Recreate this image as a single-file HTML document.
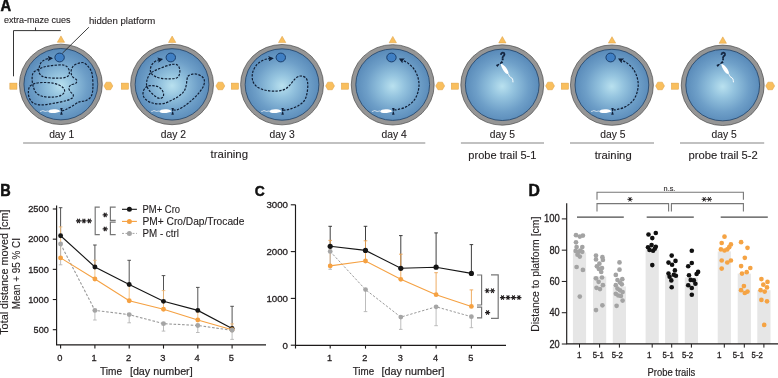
<!DOCTYPE html>
<html><head><meta charset="utf-8"><style>
html,body{margin:0;padding:0;background:#fff;}
svg{display:block;will-change:transform;}
text{font-family:"Liberation Sans", sans-serif;}
</style></head><body>
<svg width="778" height="378" viewBox="0 0 778 378" font-family='"Liberation Sans", sans-serif' fill="#231f20">
<rect width="778" height="378" fill="#ffffff"/>
<defs>
<radialGradient id="water" cx="0.5" cy="0.52" r="0.55"><stop offset="0" stop-color="#b9e1ef"/><stop offset="0.28" stop-color="#95c4df"/><stop offset="0.65" stop-color="#6e9fc8"/><stop offset="1" stop-color="#5485b5"/></radialGradient>
<marker id="ah" viewBox="0 0 10 10" refX="7" refY="5" markerWidth="4.6" markerHeight="4.6" orient="auto-start-reverse"><path d="M0,0 L10,5 L0,10 L2,5 z" fill="#10203a"/></marker>
</defs>
<path d="M60.95,35.90 L64.60,42.30 L57.30,42.30 Z" fill="#f9bf5e" stroke="#dc9d3f" stroke-width="0.5"/>
<rect x="9.85" y="83.1" width="7.1" height="6.1" fill="#f9bf5e" stroke="#dc9d3f" stroke-width="0.5"/>
<path d="M103.95,85.95 L106.18,82.15 L110.62,82.15 L112.85,85.95 L110.62,89.75 L106.18,89.75 Z" fill="#f9bf5e" stroke="#dc9d3f" stroke-width="0.5"/>
<ellipse cx="60.85" cy="84.35" rx="41.45" ry="40.2" fill="#959595" stroke="#4a4a4a" stroke-width="0.7"/>
<ellipse cx="60.85" cy="84.20" rx="36.9" ry="35.7" fill="url(#water)" stroke="#24466c" stroke-width="0.85"/>
<ellipse cx="59.60" cy="57.5" rx="4.7" ry="4.4" fill="#3f7fc4" stroke="#173a66" stroke-width="0.95"/>
<path d="M48.85,111.30 C47.050000000000004,110.3 46.050000000000004,112.3 44.050000000000004,111.0 S41.550000000000004,111.89999999999999 40.050000000000004,111.39999999999999" fill="none" stroke="#ffffff" stroke-width="0.8" opacity="0.9"/>
<path d="M48.55,111.40 C48.55,108.90 57.05,108.70 59.85,110.80 L60.55,111.30 C57.05,113.60 48.55,113.70 48.55,111.40 Z" fill="#ffffff"/>
<path d="M60.20,107.90 L62.70,107.90 L61.80,111.00 L61.10,111.00 Z M61.10,111.60 L61.80,111.60 L62.70,114.80 L60.20,114.80 Z" fill="#10203a"/>
<path d="M62.00,110.90 C62.57,110.70 63.83,110.42 65.40,109.70 C66.97,108.98 69.25,107.83 71.40,106.60 C73.55,105.37 76.57,103.17 78.30,102.30 C80.03,101.43 80.50,101.68 81.80,101.40 C83.10,101.12 84.53,101.45 86.10,100.60 C87.67,99.75 90.07,98.45 91.20,96.30 C92.33,94.15 92.75,91.43 92.90,87.70 C93.05,83.97 92.82,77.35 92.10,73.90 C91.38,70.45 90.03,68.87 88.60,67.00 C87.17,65.13 85.35,63.27 83.50,62.70 C81.65,62.13 79.22,63.02 77.50,63.60 C75.78,64.18 74.27,64.92 73.20,66.20 C72.13,67.48 71.25,69.58 71.10,71.30 C70.95,73.02 71.38,75.07 72.30,76.50 C73.22,77.93 76.03,78.75 76.60,79.90 C77.17,81.05 76.70,82.53 75.70,83.40 C74.70,84.27 71.73,84.25 70.60,85.10 C69.47,85.95 68.90,87.35 68.90,88.50 C68.90,89.65 69.88,90.98 70.60,92.00 C71.32,93.02 72.92,93.60 73.20,94.60 C73.48,95.60 73.45,97.00 72.30,98.00 C71.15,99.00 69.32,99.73 66.30,100.60 C63.28,101.47 58.22,102.48 54.20,103.20 C50.18,103.92 45.63,104.90 42.20,104.90 C38.77,104.90 35.75,104.35 33.60,103.20 C31.45,102.05 30.17,100.02 29.30,98.00 C28.43,95.98 28.25,93.10 28.40,91.10 C28.55,89.10 29.05,87.28 30.20,86.00 C31.35,84.72 33.02,83.98 35.30,83.40 C37.58,82.82 40.75,82.50 43.90,82.50 C47.05,82.50 51.18,82.68 54.20,83.40 C57.22,84.12 60.27,85.52 62.00,86.80 C63.73,88.08 64.75,89.67 64.60,91.10 C64.45,92.53 63.12,94.40 61.10,95.40 C59.08,96.40 55.65,96.95 52.50,97.10 C49.35,97.25 44.92,97.02 42.20,96.30 C39.48,95.58 37.63,94.23 36.20,92.80 C34.77,91.37 34.27,89.70 33.60,87.70 C32.93,85.70 32.35,83.10 32.20,80.80 C32.05,78.50 32.03,75.62 32.70,73.90 C33.37,72.18 34.33,71.65 36.20,70.50 C38.07,69.35 40.90,67.87 43.90,67.00 C46.90,66.13 50.75,65.58 54.20,65.30 C57.65,65.02 62.15,64.58 64.60,65.30 C67.05,66.02 68.18,68.02 68.90,69.60 C69.62,71.18 69.48,73.50 68.90,74.80 C68.32,76.10 67.27,76.83 65.40,77.40 C63.53,77.97 61.00,78.20 57.70,78.20 C54.40,78.20 48.47,77.97 45.60,77.40 C42.73,76.83 41.63,75.95 40.50,74.80 C39.37,73.65 38.80,72.37 38.80,70.50 C38.80,68.63 39.65,65.32 40.50,63.60 C41.35,61.88 42.57,61.05 43.90,60.20 C45.23,59.35 47.23,58.82 48.50,58.50 C49.77,58.18 51.00,58.33 51.50,58.30" fill="none" stroke="#0f1d33" stroke-width="1.18" stroke-dasharray="2.4,1.3" marker-end="url(#ah)"/>
<path d="M172.15,36.06 L175.80,42.46 L168.50,42.46 Z" fill="#f9bf5e" stroke="#dc9d3f" stroke-width="0.5"/>
<rect x="121.35" y="83.1" width="7.1" height="6.1" fill="#f9bf5e" stroke="#dc9d3f" stroke-width="0.5"/>
<path d="M215.90,85.95 L218.12,82.15 L222.57,82.15 L224.80,85.95 L222.57,89.75 L218.12,89.75 Z" fill="#f9bf5e" stroke="#dc9d3f" stroke-width="0.5"/>
<ellipse cx="172.05" cy="84.51" rx="41.45" ry="40.2" fill="#959595" stroke="#4a4a4a" stroke-width="0.7"/>
<ellipse cx="172.05" cy="84.36" rx="36.9" ry="35.7" fill="url(#water)" stroke="#24466c" stroke-width="0.85"/>
<ellipse cx="170.80" cy="57.5" rx="4.7" ry="4.4" fill="#3f7fc4" stroke="#173a66" stroke-width="0.95"/>
<path d="M160.05,111.30 C158.25,110.3 157.25,112.3 155.25,111.0 S152.75,111.89999999999999 151.25,111.39999999999999" fill="none" stroke="#ffffff" stroke-width="0.8" opacity="0.9"/>
<path d="M159.75,111.40 C159.75,108.90 168.25,108.70 171.05,110.80 L171.75,111.30 C168.25,113.60 159.75,113.70 159.75,111.40 Z" fill="#ffffff"/>
<path d="M171.40,107.90 L173.90,107.90 L173.00,111.00 L172.30,111.00 Z M172.30,111.60 L173.00,111.60 L173.90,114.80 L171.40,114.80 Z" fill="#10203a"/>
<path d="M173.30,109.90 C173.90,109.90 175.30,110.40 176.90,109.90 C178.50,109.40 180.92,108.10 182.90,106.90 C184.88,105.70 186.82,104.28 188.80,102.70 C190.78,101.12 192.92,99.28 194.80,97.40 C196.68,95.52 198.62,93.38 200.10,91.40 C201.58,89.42 203.00,87.38 203.70,85.50 C204.40,83.62 204.60,81.60 204.30,80.10 C204.00,78.60 203.10,77.48 201.90,76.50 C200.70,75.52 198.68,74.58 197.10,74.20 C195.52,73.82 193.88,73.90 192.40,74.20 C190.92,74.50 189.10,75.12 188.20,76.00 C187.30,76.88 187.30,78.12 187.00,79.50 C186.70,80.88 186.70,82.72 186.40,84.30 C186.10,85.88 185.78,87.62 185.20,89.00 C184.62,90.38 184.08,91.32 182.90,92.60 C181.72,93.88 179.92,95.47 178.10,96.70 C176.28,97.93 174.28,98.88 172.00,100.00 C169.72,101.12 166.87,102.77 164.40,103.40 C161.93,104.03 159.45,103.93 157.20,103.80 C154.95,103.67 152.75,103.27 150.90,102.60 C149.05,101.93 147.37,100.92 146.10,99.80 C144.83,98.68 143.77,97.35 143.30,95.90 C142.83,94.45 142.97,92.43 143.30,91.10 C143.63,89.77 144.57,88.75 145.30,87.90 C146.03,87.05 146.50,86.38 147.70,86.00 C148.90,85.62 150.78,85.48 152.50,85.60 C154.22,85.72 156.42,85.98 158.00,86.70 C159.58,87.42 161.07,88.63 162.00,89.90 C162.93,91.17 163.53,93.03 163.60,94.30 C163.67,95.57 163.20,96.83 162.40,97.50 C161.60,98.17 160.32,98.77 158.80,98.30 C157.28,97.83 155.02,96.17 153.30,94.70 C151.58,93.23 149.62,91.12 148.50,89.50 C147.38,87.88 146.87,86.50 146.60,85.00 C146.33,83.50 146.68,81.75 146.90,80.50 C147.12,79.25 147.33,78.70 147.90,77.50 C148.47,76.30 148.97,74.53 150.30,73.30 C151.63,72.07 153.65,71.17 155.90,70.10 C158.15,69.03 161.17,67.83 163.80,66.90 C166.43,65.97 169.45,64.83 171.70,64.50 C173.95,64.17 175.97,64.10 177.30,64.90 C178.63,65.70 179.37,67.65 179.70,69.30 C180.03,70.95 179.83,73.35 179.30,74.80 C178.77,76.25 178.02,77.33 176.50,78.00 C174.98,78.67 172.72,78.73 170.20,78.80 C167.68,78.87 163.92,78.80 161.40,78.40 C158.88,78.00 156.75,77.18 155.10,76.40 C153.45,75.62 152.30,74.75 151.50,73.70 C150.70,72.65 150.30,71.50 150.30,70.10 C150.30,68.70 150.77,66.70 151.50,65.30 C152.23,63.90 153.53,62.60 154.70,61.70 C155.87,60.80 157.37,60.30 158.50,59.90 C159.63,59.50 161.00,59.40 161.50,59.30" fill="none" stroke="#0f1d33" stroke-width="1.18" stroke-dasharray="2.4,1.3" marker-end="url(#ah)"/>
<path d="M282.15,36.22 L285.80,42.62 L278.50,42.62 Z" fill="#f9bf5e" stroke="#dc9d3f" stroke-width="0.5"/>
<rect x="231.35" y="83.1" width="7.1" height="6.1" fill="#f9bf5e" stroke="#dc9d3f" stroke-width="0.5"/>
<path d="M325.60,85.95 L327.82,82.15 L332.28,82.15 L334.50,85.95 L332.28,89.75 L327.82,89.75 Z" fill="#f9bf5e" stroke="#dc9d3f" stroke-width="0.5"/>
<ellipse cx="282.05" cy="84.67" rx="41.45" ry="40.2" fill="#959595" stroke="#4a4a4a" stroke-width="0.7"/>
<ellipse cx="282.05" cy="84.52" rx="36.9" ry="35.7" fill="url(#water)" stroke="#24466c" stroke-width="0.85"/>
<ellipse cx="280.80" cy="57.5" rx="4.7" ry="4.4" fill="#3f7fc4" stroke="#173a66" stroke-width="0.95"/>
<path d="M270.05,111.30 C268.25,110.3 267.25,112.3 265.25,111.0 S262.75,111.89999999999999 261.25,111.39999999999999" fill="none" stroke="#ffffff" stroke-width="0.8" opacity="0.9"/>
<path d="M269.75,111.40 C269.75,108.90 278.25,108.70 281.05,110.80 L281.75,111.30 C278.25,113.60 269.75,113.70 269.75,111.40 Z" fill="#ffffff"/>
<path d="M281.40,107.90 L283.90,107.90 L283.00,111.00 L282.30,111.00 Z M282.30,111.60 L283.00,111.60 L283.90,114.80 L281.40,114.80 Z" fill="#10203a"/>
<path d="M283.18,110.38 C284.27,110.18 287.20,109.95 289.72,109.18 C292.24,108.41 295.88,107.17 298.32,105.74 C300.76,104.31 302.91,102.59 304.34,100.58 C305.77,98.57 306.35,96.42 306.92,93.70 C307.49,90.98 307.92,86.82 307.78,84.24 C307.64,81.66 307.21,79.60 306.06,78.22 C304.91,76.84 302.62,75.98 300.90,75.98 C299.18,75.98 297.46,76.84 295.74,78.22 C294.02,79.60 292.44,82.38 290.58,84.24 C288.72,86.10 287.00,88.25 284.56,89.40 C282.12,90.55 279.11,90.98 275.96,91.12 C272.81,91.26 268.79,90.98 265.64,90.26 C262.49,89.54 259.19,88.40 257.04,86.82 C254.89,85.24 253.46,83.24 252.74,80.80 C252.02,78.36 252.02,74.92 252.74,72.20 C253.46,69.48 255.32,66.47 257.04,64.46 C258.76,62.45 261.20,61.11 263.06,60.16 C264.92,59.21 266.70,59.07 268.22,58.78 C269.74,58.50 271.52,58.50 272.18,58.44" fill="none" stroke="#0f1d33" stroke-width="1.18" stroke-dasharray="2.4,1.3" marker-end="url(#ah)"/>
<path d="M392.80,36.38 L396.45,42.78 L389.15,42.78 Z" fill="#f9bf5e" stroke="#dc9d3f" stroke-width="0.5"/>
<rect x="341.45" y="83.1" width="7.1" height="6.1" fill="#f9bf5e" stroke="#dc9d3f" stroke-width="0.5"/>
<path d="M435.75,85.95 L437.97,82.15 L442.43,82.15 L444.65,85.95 L442.43,89.75 L437.97,89.75 Z" fill="#f9bf5e" stroke="#dc9d3f" stroke-width="0.5"/>
<ellipse cx="392.70" cy="84.83" rx="41.45" ry="40.2" fill="#959595" stroke="#4a4a4a" stroke-width="0.7"/>
<ellipse cx="392.70" cy="84.68" rx="36.9" ry="35.7" fill="url(#water)" stroke="#24466c" stroke-width="0.85"/>
<ellipse cx="391.45" cy="57.5" rx="4.7" ry="4.4" fill="#3f7fc4" stroke="#173a66" stroke-width="0.95"/>
<path d="M380.70,111.30 C378.9,110.3 377.9,112.3 375.9,111.0 S373.4,111.89999999999999 371.9,111.39999999999999" fill="none" stroke="#ffffff" stroke-width="0.8" opacity="0.9"/>
<path d="M380.40,111.40 C380.40,108.90 388.90,108.70 391.70,110.80 L392.40,111.30 C388.90,113.60 380.40,113.70 380.40,111.40 Z" fill="#ffffff"/>
<path d="M392.05,107.90 L394.55,107.90 L393.65,111.00 L392.95,111.00 Z M392.95,111.60 L393.65,111.60 L394.55,114.80 L392.05,114.80 Z" fill="#10203a"/>
<path d="M394.31,109.95 C394.87,109.88 395.63,110.12 397.68,109.55 C399.73,108.99 403.80,108.23 406.61,106.58 C409.43,104.92 412.57,102.44 414.55,99.63 C416.54,96.82 417.86,93.01 418.52,89.70 C419.19,86.39 419.19,83.09 418.52,79.78 C417.86,76.47 416.37,72.66 414.55,69.85 C412.73,67.04 409.99,64.66 407.61,62.90 C405.22,61.15 401.48,59.93 400.26,59.33" fill="none" stroke="#0f1d33" stroke-width="1.18" stroke-dasharray="2.4,1.3" marker-end="url(#ah)"/>
<path d="M502.35,36.53 L506.00,42.93 L498.70,42.93 Z" fill="#f9bf5e" stroke="#dc9d3f" stroke-width="0.5"/>
<rect x="451.35" y="83.1" width="7.1" height="6.1" fill="#f9bf5e" stroke="#dc9d3f" stroke-width="0.5"/>
<path d="M545.60,85.95 L547.82,82.15 L552.27,82.15 L554.50,85.95 L552.27,89.75 L547.82,89.75 Z" fill="#f9bf5e" stroke="#dc9d3f" stroke-width="0.5"/>
<ellipse cx="502.25" cy="84.98" rx="41.45" ry="40.2" fill="#959595" stroke="#4a4a4a" stroke-width="0.7"/>
<ellipse cx="502.25" cy="84.83" rx="36.9" ry="35.7" fill="url(#water)" stroke="#24466c" stroke-width="0.85"/>
<g transform="translate(504.55,68.70) rotate(55)"><path d="M-6.3,0 C-6.3,-2.3 3,-2.5 5.6,-0.4 L6.2,0.2 C3,2.5 -6.3,2.5 -6.3,0 Z" fill="#ffffff" transform="scale(-1,1)"/><path d="M6,0.2 C7.5,-0.8 8.5,1.2 10.5,0 S13.5,-0.6 16,0.9" fill="none" stroke="#ffffff" stroke-width="0.9"/></g>
<g transform="translate(499.55,63.90) rotate(-35)"><path d="M-3.6,-1.2 L-0.5,-0.5 L-0.5,0.5 L-3.6,1.2 Z M0.5,-0.5 L3.6,-1.2 L3.6,1.2 L0.5,0.5 Z" fill="#10203a"/></g>
<text x="502.85" y="59.9" font-size="11.4" font-weight="bold" text-anchor="middle" fill="#10203a" stroke="#10203a" stroke-width="0.6" textLength="5.6" lengthAdjust="spacingAndGlyphs">?</text>
<path d="M612.00,36.69 L615.65,43.09 L608.35,43.09 Z" fill="#f9bf5e" stroke="#dc9d3f" stroke-width="0.5"/>
<rect x="561.35" y="83.1" width="7.1" height="6.1" fill="#f9bf5e" stroke="#dc9d3f" stroke-width="0.5"/>
<path d="M655.60,85.95 L657.82,82.15 L662.27,82.15 L664.50,85.95 L662.27,89.75 L657.82,89.75 Z" fill="#f9bf5e" stroke="#dc9d3f" stroke-width="0.5"/>
<ellipse cx="611.90" cy="85.14" rx="41.45" ry="40.2" fill="#959595" stroke="#4a4a4a" stroke-width="0.7"/>
<ellipse cx="611.90" cy="84.99" rx="36.9" ry="35.7" fill="url(#water)" stroke="#24466c" stroke-width="0.85"/>
<ellipse cx="610.65" cy="57.5" rx="4.7" ry="4.4" fill="#3f7fc4" stroke="#173a66" stroke-width="0.95"/>
<path d="M599.90,111.30 C598.1,110.3 597.1,112.3 595.1,111.0 S592.6,111.89999999999999 591.1,111.39999999999999" fill="none" stroke="#ffffff" stroke-width="0.8" opacity="0.9"/>
<path d="M599.60,111.40 C599.60,108.90 608.10,108.70 610.90,110.80 L611.60,111.30 C608.10,113.60 599.60,113.70 599.60,111.40 Z" fill="#ffffff"/>
<path d="M611.25,107.90 L613.75,107.90 L612.85,111.00 L612.15,111.00 Z M612.15,111.60 L612.85,111.60 L613.75,114.80 L611.25,114.80 Z" fill="#10203a"/>
<path d="M613.51,109.95 C614.07,109.88 614.83,110.12 616.88,109.55 C618.93,108.99 623.00,108.23 625.81,106.58 C628.63,104.92 631.77,102.44 633.75,99.63 C635.74,96.82 637.06,93.01 637.72,89.70 C638.39,86.39 638.39,83.09 637.72,79.78 C637.06,76.47 635.57,72.66 633.75,69.85 C631.93,67.04 629.19,64.66 626.81,62.90 C624.42,61.15 620.68,59.93 619.46,59.33" fill="none" stroke="#0f1d33" stroke-width="1.18" stroke-dasharray="2.4,1.3" marker-end="url(#ah)"/>
<path d="M722.80,36.85 L726.45,43.25 L719.15,43.25 Z" fill="#f9bf5e" stroke="#dc9d3f" stroke-width="0.5"/>
<rect x="671.45" y="83.1" width="7.1" height="6.1" fill="#f9bf5e" stroke="#dc9d3f" stroke-width="0.5"/>
<path d="M765.75,85.95 L767.98,82.15 L772.43,82.15 L774.65,85.95 L772.43,89.75 L767.98,89.75 Z" fill="#f9bf5e" stroke="#dc9d3f" stroke-width="0.5"/>
<ellipse cx="722.70" cy="85.30" rx="41.45" ry="40.2" fill="#959595" stroke="#4a4a4a" stroke-width="0.7"/>
<ellipse cx="722.70" cy="85.15" rx="36.9" ry="35.7" fill="url(#water)" stroke="#24466c" stroke-width="0.85"/>
<g transform="translate(725.00,68.70) rotate(55)"><path d="M-6.3,0 C-6.3,-2.3 3,-2.5 5.6,-0.4 L6.2,0.2 C3,2.5 -6.3,2.5 -6.3,0 Z" fill="#ffffff" transform="scale(-1,1)"/><path d="M6,0.2 C7.5,-0.8 8.5,1.2 10.5,0 S13.5,-0.6 16,0.9" fill="none" stroke="#ffffff" stroke-width="0.9"/></g>
<g transform="translate(720.00,63.90) rotate(-35)"><path d="M-3.6,-1.2 L-0.5,-0.5 L-0.5,0.5 L-3.6,1.2 Z M0.5,-0.5 L3.6,-1.2 L3.6,1.2 L0.5,0.5 Z" fill="#10203a"/></g>
<text x="723.30" y="59.9" font-size="11.4" font-weight="bold" text-anchor="middle" fill="#10203a" stroke="#10203a" stroke-width="0.6" textLength="5.6" lengthAdjust="spacingAndGlyphs">?</text>
<path d="M13.5,76.3 L13.5,30.6 L60.8,30.6 M35.5,30.6 L35.5,27.4" fill="none" stroke="#2a2a2a" stroke-width="0.95"/>
<path d="M88.9,27.2 L62.4,53.2" fill="none" stroke="#2a2a2a" stroke-width="0.9"/>
<text x="0.60" y="10.60" font-size="16.0" stroke="#111" stroke-width="0.5" font-weight="bold" fill="#111" textLength="10.60" lengthAdjust="spacingAndGlyphs" >A</text>
<text x="4.00" y="23.30" font-size="9.6" stroke="#231f20" stroke-width="0.12" textLength="66.40" lengthAdjust="spacingAndGlyphs" >extra-maze cues</text>
<text x="88.90" y="24.40" font-size="9.8" stroke="#231f20" stroke-width="0.12" textLength="66.30" lengthAdjust="spacingAndGlyphs" >hidden platform</text>
<text x="61.75" y="137.80" font-size="10.5" stroke="#231f20" stroke-width="0.12" text-anchor="middle" textLength="25.20" lengthAdjust="spacingAndGlyphs" >day 1</text>
<text x="173.40" y="137.80" font-size="10.5" stroke="#231f20" stroke-width="0.12" text-anchor="middle" textLength="25.20" lengthAdjust="spacingAndGlyphs" >day 2</text>
<text x="282.05" y="137.80" font-size="10.5" stroke="#231f20" stroke-width="0.12" text-anchor="middle" textLength="25.20" lengthAdjust="spacingAndGlyphs" >day 3</text>
<text x="394.10" y="137.80" font-size="10.5" stroke="#231f20" stroke-width="0.12" text-anchor="middle" textLength="25.20" lengthAdjust="spacingAndGlyphs" >day 4</text>
<text x="502.45" y="137.80" font-size="10.5" stroke="#231f20" stroke-width="0.12" text-anchor="middle" textLength="25.20" lengthAdjust="spacingAndGlyphs" >day 5</text>
<text x="612.90" y="137.80" font-size="10.5" stroke="#231f20" stroke-width="0.12" text-anchor="middle" textLength="25.20" lengthAdjust="spacingAndGlyphs" >day 5</text>
<text x="724.20" y="137.80" font-size="10.5" stroke="#231f20" stroke-width="0.12" text-anchor="middle" textLength="25.20" lengthAdjust="spacingAndGlyphs" >day 5</text>
<line x1="23.1" y1="142.9" x2="425.3" y2="142.9" stroke="#adadad" stroke-width="1.5"/>
<line x1="460.9" y1="142.9" x2="544" y2="142.9" stroke="#adadad" stroke-width="1.5"/>
<line x1="570" y1="142.9" x2="654" y2="142.9" stroke="#adadad" stroke-width="1.5"/>
<line x1="680" y1="142.9" x2="764.2" y2="142.9" stroke="#adadad" stroke-width="1.5"/>
<text x="229.30" y="158.40" font-size="10.5" stroke="#231f20" stroke-width="0.12" text-anchor="middle" textLength="37.40" lengthAdjust="spacingAndGlyphs" >training</text>
<text x="502.40" y="158.50" font-size="10.5" stroke="#231f20" stroke-width="0.12" text-anchor="middle" textLength="68.10" lengthAdjust="spacingAndGlyphs" >probe trail 5-1</text>
<text x="613.20" y="158.50" font-size="10.5" stroke="#231f20" stroke-width="0.12" text-anchor="middle" textLength="36.90" lengthAdjust="spacingAndGlyphs" >training</text>
<text x="723.15" y="158.50" font-size="10.5" stroke="#231f20" stroke-width="0.12" text-anchor="middle" textLength="69.30" lengthAdjust="spacingAndGlyphs" >probe trail 5-2</text>
<text x="0.30" y="195.90" font-size="15.9" stroke="#111" stroke-width="0.5" font-weight="bold" fill="#111" textLength="10.50" lengthAdjust="spacingAndGlyphs" >B</text>
<path d="M56.6,205.6 L56.6,344.9 L266,344.9" fill="none" stroke="#1c1a1a" stroke-width="1.15"/>
<line x1="52.8" y1="329.70" x2="56.6" y2="329.70" stroke="#1c1a1a" stroke-width="1.1"/>
<text x="48.80" y="332.90" font-size="9.4" stroke="#231f20" stroke-width="0.3" text-anchor="end" textLength="15.20" lengthAdjust="spacingAndGlyphs" >500</text>
<line x1="52.8" y1="299.52" x2="56.6" y2="299.52" stroke="#1c1a1a" stroke-width="1.1"/>
<text x="48.80" y="302.72" font-size="9.4" stroke="#231f20" stroke-width="0.3" text-anchor="end" textLength="20.60" lengthAdjust="spacingAndGlyphs" >1000</text>
<line x1="52.8" y1="269.35" x2="56.6" y2="269.35" stroke="#1c1a1a" stroke-width="1.1"/>
<text x="48.80" y="272.55" font-size="9.4" stroke="#231f20" stroke-width="0.3" text-anchor="end" textLength="20.60" lengthAdjust="spacingAndGlyphs" >1500</text>
<line x1="52.8" y1="239.17" x2="56.6" y2="239.17" stroke="#1c1a1a" stroke-width="1.1"/>
<text x="48.80" y="242.37" font-size="9.4" stroke="#231f20" stroke-width="0.3" text-anchor="end" textLength="20.60" lengthAdjust="spacingAndGlyphs" >2000</text>
<line x1="52.8" y1="209.00" x2="56.6" y2="209.00" stroke="#1c1a1a" stroke-width="1.1"/>
<text x="48.80" y="212.20" font-size="9.4" stroke="#231f20" stroke-width="0.3" text-anchor="end" textLength="20.60" lengthAdjust="spacingAndGlyphs" >2500</text>
<line x1="60.60" y1="344.9" x2="60.60" y2="348.6" stroke="#1c1a1a" stroke-width="1.1"/>
<text x="59.90" y="360.70" font-size="9.3" stroke="#231f20" stroke-width="0.3" text-anchor="middle" >0</text>
<line x1="94.90" y1="344.9" x2="94.90" y2="348.6" stroke="#1c1a1a" stroke-width="1.1"/>
<text x="94.20" y="360.70" font-size="9.3" stroke="#231f20" stroke-width="0.3" text-anchor="middle" >1</text>
<line x1="129.20" y1="344.9" x2="129.20" y2="348.6" stroke="#1c1a1a" stroke-width="1.1"/>
<text x="128.50" y="360.70" font-size="9.3" stroke="#231f20" stroke-width="0.3" text-anchor="middle" >2</text>
<line x1="163.50" y1="344.9" x2="163.50" y2="348.6" stroke="#1c1a1a" stroke-width="1.1"/>
<text x="162.80" y="360.70" font-size="9.3" stroke="#231f20" stroke-width="0.3" text-anchor="middle" >3</text>
<line x1="197.80" y1="344.9" x2="197.80" y2="348.6" stroke="#1c1a1a" stroke-width="1.1"/>
<text x="197.10" y="360.70" font-size="9.3" stroke="#231f20" stroke-width="0.3" text-anchor="middle" >4</text>
<line x1="232.10" y1="344.9" x2="232.10" y2="348.6" stroke="#1c1a1a" stroke-width="1.1"/>
<text x="231.40" y="360.70" font-size="9.3" stroke="#231f20" stroke-width="0.3" text-anchor="middle" >5</text>
<text x="100.00" y="374.90" font-size="10.9" stroke="#231f20" stroke-width="0.2" textLength="22.00" lengthAdjust="spacingAndGlyphs" >Time</text>
<text x="129.90" y="374.90" font-size="10.9" stroke="#231f20" stroke-width="0.2" textLength="62.80" lengthAdjust="spacingAndGlyphs" >[day number]</text>
<text x="8.40" y="334.80" font-size="10.5" stroke="#231f20" stroke-width="0.12" textLength="125.30" lengthAdjust="spacingAndGlyphs" transform="rotate(-90 8.40 334.80)" >Total distance moved  [cm]</text>
<text x="20.20" y="309.30" font-size="10.5" stroke="#231f20" stroke-width="0.12" textLength="71.30" lengthAdjust="spacingAndGlyphs" transform="rotate(-90 20.20 309.30)" >Mean + 95 % CI</text>
<path d="M60.60,235.74 L60.60,207.70 M58.80,207.70 L62.40,207.70" stroke="#4a4a4a" stroke-width="0.95" fill="none"/>
<path d="M60.60,257.88 L60.60,226.90 M58.80,226.90 L62.40,226.90" stroke="#f0bb7c" stroke-width="0.9" fill="none"/>
<path d="M60.60,244.00 L60.60,264.80 M58.80,264.80 L62.40,264.80" stroke="#b5b5b5" stroke-width="0.9" fill="none"/>
<path d="M94.90,266.94 L94.90,245.00 M93.10,245.00 L96.70,245.00" stroke="#4a4a4a" stroke-width="0.95" fill="none"/>
<path d="M94.90,279.01 L94.90,260.30 M93.10,260.30 L96.70,260.30" stroke="#f0bb7c" stroke-width="0.9" fill="none"/>
<path d="M94.90,310.39 L94.90,320.00 M93.10,320.00 L96.70,320.00" stroke="#b5b5b5" stroke-width="0.9" fill="none"/>
<path d="M129.20,284.44 L129.20,260.30 M127.40,260.30 L131.00,260.30" stroke="#4a4a4a" stroke-width="0.95" fill="none"/>
<path d="M129.20,300.73 L129.20,285.00 M127.40,285.00 L131.00,285.00" stroke="#f0bb7c" stroke-width="0.9" fill="none"/>
<path d="M129.20,314.61 L129.20,322.80 M127.40,322.80 L131.00,322.80" stroke="#b5b5b5" stroke-width="0.9" fill="none"/>
<path d="M163.50,301.34 L163.50,275.60 M161.70,275.60 L165.30,275.60" stroke="#4a4a4a" stroke-width="0.95" fill="none"/>
<path d="M163.50,309.18 L163.50,290.60 M161.70,290.60 L165.30,290.60" stroke="#f0bb7c" stroke-width="0.9" fill="none"/>
<path d="M163.50,323.66 L163.50,331.10 M161.70,331.10 L165.30,331.10" stroke="#b5b5b5" stroke-width="0.9" fill="none"/>
<path d="M197.80,310.39 L197.80,287.40 M196.00,287.40 L199.60,287.40" stroke="#4a4a4a" stroke-width="0.95" fill="none"/>
<path d="M197.80,320.04 L197.80,312.00 M196.00,312.00 L199.60,312.00" stroke="#f0bb7c" stroke-width="0.9" fill="none"/>
<path d="M197.80,325.48 L197.80,332.50 M196.00,332.50 L199.60,332.50" stroke="#b5b5b5" stroke-width="0.9" fill="none"/>
<path d="M232.10,328.49 L232.10,306.30 M230.30,306.30 L233.90,306.30" stroke="#4a4a4a" stroke-width="0.95" fill="none"/>
<path d="M232.10,329.70 L232.10,323.90 M230.30,323.90 L233.90,323.90" stroke="#f0bb7c" stroke-width="0.9" fill="none"/>
<path d="M232.10,330.30 L232.10,339.40 M230.30,339.40 L233.90,339.40" stroke="#b5b5b5" stroke-width="0.9" fill="none"/>
<polyline points="60.60,244.00 94.90,310.39 129.20,314.61 163.50,323.66 197.80,325.48 232.10,330.30" fill="none" stroke="#9a9a9a" stroke-width="1.1" stroke-dasharray="2.6,1.7"/>
<polyline points="60.60,257.88 94.90,279.01 129.20,300.73 163.50,309.18 197.80,320.04 232.10,329.70" fill="none" stroke="#f5a142" stroke-width="1.1"/>
<polyline points="60.60,235.74 94.90,266.94 129.20,284.44 163.50,301.34 197.80,310.39 232.10,328.49" fill="none" stroke="#151515" stroke-width="1.1"/>
<circle cx="60.60" cy="235.74" r="2.45" fill="#151515"/>
<circle cx="94.90" cy="266.94" r="2.45" fill="#151515"/>
<circle cx="129.20" cy="284.44" r="2.45" fill="#151515"/>
<circle cx="163.50" cy="301.34" r="2.45" fill="#151515"/>
<circle cx="197.80" cy="310.39" r="2.45" fill="#151515"/>
<circle cx="232.10" cy="328.49" r="2.45" fill="#151515"/>
<circle cx="60.60" cy="257.88" r="2.45" fill="#f5a142"/>
<circle cx="94.90" cy="279.01" r="2.45" fill="#f5a142"/>
<circle cx="129.20" cy="300.73" r="2.45" fill="#f5a142"/>
<circle cx="163.50" cy="309.18" r="2.45" fill="#f5a142"/>
<circle cx="197.80" cy="320.04" r="2.45" fill="#f5a142"/>
<circle cx="232.10" cy="329.70" r="2.45" fill="#f5a142"/>
<circle cx="60.60" cy="244.00" r="2.45" fill="#a5a5a5"/>
<circle cx="94.90" cy="310.39" r="2.45" fill="#a5a5a5"/>
<circle cx="129.20" cy="314.61" r="2.45" fill="#a5a5a5"/>
<circle cx="163.50" cy="323.66" r="2.45" fill="#a5a5a5"/>
<circle cx="197.80" cy="325.48" r="2.45" fill="#a5a5a5"/>
<circle cx="232.10" cy="330.30" r="2.45" fill="#a5a5a5"/>
<line x1="122" y1="209.3" x2="136.9" y2="209.3" stroke="#151515" stroke-width="1.1"/><circle cx="129.4" cy="209.3" r="2.5" fill="#151515"/>
<line x1="122" y1="221.4" x2="136.9" y2="221.4" stroke="#f5a142" stroke-width="1.1"/><circle cx="129.4" cy="221.4" r="2.5" fill="#f5a142"/>
<line x1="122" y1="233.4" x2="136.9" y2="233.4" stroke="#a5a5a5" stroke-width="1" stroke-dasharray="2,1.5"/><circle cx="129.4" cy="233.4" r="2.5" fill="#a5a5a5"/>
<text x="142.50" y="213.20" font-size="10.2" stroke="#231f20" stroke-width="0.12" textLength="37.60" lengthAdjust="spacingAndGlyphs" >PM+ Cro</text>
<text x="142.50" y="225.30" font-size="10.2" stroke="#231f20" stroke-width="0.12" textLength="101.90" lengthAdjust="spacingAndGlyphs" >PM+ Cro/Dap/Trocade</text>
<text x="142.50" y="237.40" font-size="10.2" stroke="#231f20" stroke-width="0.12" textLength="36.40" lengthAdjust="spacingAndGlyphs" >PM - ctrl</text>
<path d="M99.8,207.2 L95.2,207.2 L95.2,234.7 L99.8,234.7" fill="none" stroke="#777777" stroke-width="1.2"/>
<path d="M115.7,207.2 L110.4,207.2 L110.4,220.3 L115.7,220.3 M115.7,222.2 L110.4,222.2 L110.4,234.7 L115.7,234.7" fill="none" stroke="#777777" stroke-width="1.2"/>
<path d="M102.65,214.90 L107.75,214.90 M103.92,212.69 L106.48,217.11 M106.48,212.69 L103.92,217.11 " stroke="#231f20" stroke-width="1.1" fill="none"/>
<path d="M102.65,228.90 L107.75,228.90 M103.92,226.69 L106.48,231.11 M106.48,226.69 L103.92,231.11 " stroke="#231f20" stroke-width="1.1" fill="none"/>
<path d="M75.95,220.90 L81.05,220.90 M77.22,218.69 L79.78,223.11 M79.78,218.69 L77.22,223.11 " stroke="#231f20" stroke-width="1.1" fill="none"/>
<path d="M81.35,220.90 L86.45,220.90 M82.62,218.69 L85.18,223.11 M85.18,218.69 L82.62,223.11 " stroke="#231f20" stroke-width="1.1" fill="none"/>
<path d="M86.75,220.90 L91.85,220.90 M88.02,218.69 L90.58,223.11 M90.58,218.69 L88.02,223.11 " stroke="#231f20" stroke-width="1.1" fill="none"/>
<text x="254.80" y="195.70" font-size="15.4" stroke="#111" stroke-width="0.5" font-weight="bold" fill="#111" textLength="10.00" lengthAdjust="spacingAndGlyphs" >C</text>
<path d="M295.5,204.8 L295.5,348.6 M295.5,345.4 L506,345.4" fill="none" stroke="#1c1a1a" stroke-width="1.15"/>
<line x1="290.8" y1="345.20" x2="295.5" y2="345.20" stroke="#1c1a1a" stroke-width="1.1"/>
<text x="288.00" y="348.50" font-size="9.7" stroke="#231f20" stroke-width="0.3" text-anchor="end" >0</text>
<line x1="290.8" y1="298.40" x2="295.5" y2="298.40" stroke="#1c1a1a" stroke-width="1.1"/>
<text x="288.00" y="301.70" font-size="9.7" stroke="#231f20" stroke-width="0.3" text-anchor="end" textLength="21.60" lengthAdjust="spacingAndGlyphs" >1000</text>
<line x1="290.8" y1="251.60" x2="295.5" y2="251.60" stroke="#1c1a1a" stroke-width="1.1"/>
<text x="288.00" y="254.90" font-size="9.7" stroke="#231f20" stroke-width="0.3" text-anchor="end" textLength="21.60" lengthAdjust="spacingAndGlyphs" >2000</text>
<line x1="290.8" y1="204.80" x2="295.5" y2="204.80" stroke="#1c1a1a" stroke-width="1.1"/>
<text x="288.00" y="208.10" font-size="9.7" stroke="#231f20" stroke-width="0.3" text-anchor="end" textLength="21.60" lengthAdjust="spacingAndGlyphs" >3000</text>
<line x1="330.20" y1="345.4" x2="330.20" y2="348.6" stroke="#1c1a1a" stroke-width="1.1"/>
<text x="329.60" y="360.50" font-size="9.2" stroke="#231f20" stroke-width="0.3" text-anchor="middle" >1</text>
<line x1="365.50" y1="345.4" x2="365.50" y2="348.6" stroke="#1c1a1a" stroke-width="1.1"/>
<text x="364.90" y="360.50" font-size="9.2" stroke="#231f20" stroke-width="0.3" text-anchor="middle" >2</text>
<line x1="400.80" y1="345.4" x2="400.80" y2="348.6" stroke="#1c1a1a" stroke-width="1.1"/>
<text x="400.20" y="360.50" font-size="9.2" stroke="#231f20" stroke-width="0.3" text-anchor="middle" >3</text>
<line x1="436.10" y1="345.4" x2="436.10" y2="348.6" stroke="#1c1a1a" stroke-width="1.1"/>
<text x="435.50" y="360.50" font-size="9.2" stroke="#231f20" stroke-width="0.3" text-anchor="middle" >4</text>
<line x1="471.40" y1="345.4" x2="471.40" y2="348.6" stroke="#1c1a1a" stroke-width="1.1"/>
<text x="470.80" y="360.50" font-size="9.2" stroke="#231f20" stroke-width="0.3" text-anchor="middle" >5</text>
<text x="352.70" y="374.90" font-size="10.9" stroke="#231f20" stroke-width="0.2" textLength="21.40" lengthAdjust="spacingAndGlyphs" >Time</text>
<text x="381.50" y="374.90" font-size="10.9" stroke="#231f20" stroke-width="0.2" textLength="63.00" lengthAdjust="spacingAndGlyphs" >[day number]</text>
<path d="M330.20,246.30 L330.20,226.30 M328.40,226.30 L332.00,226.30" stroke="#2a2a2a" stroke-width="0.9" fill="none"/>
<path d="M330.20,265.90 L330.20,240.40 M328.40,240.40 L332.00,240.40" stroke="#eca452" stroke-width="0.9" fill="none"/>
<path d="M330.20,251.40 L330.20,269.30 M328.40,269.30 L332.00,269.30" stroke="#b5b5b5" stroke-width="0.9" fill="none"/>
<path d="M365.50,250.40 L365.50,226.30 M363.70,226.30 L367.30,226.30" stroke="#2a2a2a" stroke-width="0.9" fill="none"/>
<path d="M365.50,261.00 L365.50,240.80 M363.70,240.80 L367.30,240.80" stroke="#eca452" stroke-width="0.9" fill="none"/>
<path d="M365.50,289.60 L365.50,311.60 M363.70,311.60 L367.30,311.60" stroke="#b5b5b5" stroke-width="0.9" fill="none"/>
<path d="M400.80,268.30 L400.80,235.60 M399.00,235.60 L402.60,235.60" stroke="#2a2a2a" stroke-width="0.9" fill="none"/>
<path d="M400.80,279.30 L400.80,254.20 M399.00,254.20 L402.60,254.20" stroke="#eca452" stroke-width="0.9" fill="none"/>
<path d="M400.80,317.10 L400.80,329.40 M399.00,329.40 L402.60,329.40" stroke="#b5b5b5" stroke-width="0.9" fill="none"/>
<path d="M436.10,267.20 L436.10,232.90 M434.30,232.90 L437.90,232.90" stroke="#2a2a2a" stroke-width="0.9" fill="none"/>
<path d="M436.10,294.70 L436.10,272.70 M434.30,272.70 L437.90,272.70" stroke="#eca452" stroke-width="0.9" fill="none"/>
<path d="M436.10,306.80 L436.10,325.70 M434.30,325.70 L437.90,325.70" stroke="#b5b5b5" stroke-width="0.9" fill="none"/>
<path d="M471.40,273.40 L471.40,244.60 M469.60,244.60 L473.20,244.60" stroke="#2a2a2a" stroke-width="0.9" fill="none"/>
<path d="M471.40,306.40 L471.40,289.90 M469.60,289.90 L473.20,289.90" stroke="#eca452" stroke-width="0.9" fill="none"/>
<path d="M471.40,316.70 L471.40,327.70 M469.60,327.70 L473.20,327.70" stroke="#b5b5b5" stroke-width="0.9" fill="none"/>
<polyline points="330.20,251.40 365.50,289.60 400.80,317.10 436.10,306.80 471.40,316.70" fill="none" stroke="#9a9a9a" stroke-width="1.0" stroke-dasharray="2.4,1.7"/>
<polyline points="330.20,265.90 365.50,261.00 400.80,279.30 436.10,294.70 471.40,306.40" fill="none" stroke="#f5a142" stroke-width="1.1"/>
<polyline points="330.20,246.30 365.50,250.40 400.80,268.30 436.10,267.20 471.40,273.40" fill="none" stroke="#151515" stroke-width="1.1"/>
<circle cx="330.20" cy="251.40" r="2.4" fill="#a5a5a5"/>
<circle cx="365.50" cy="289.60" r="2.4" fill="#a5a5a5"/>
<circle cx="400.80" cy="317.10" r="2.4" fill="#a5a5a5"/>
<circle cx="436.10" cy="306.80" r="2.4" fill="#a5a5a5"/>
<circle cx="471.40" cy="316.70" r="2.4" fill="#a5a5a5"/>
<circle cx="330.20" cy="265.90" r="2.4" fill="#f5a142"/>
<circle cx="365.50" cy="261.00" r="2.4" fill="#f5a142"/>
<circle cx="400.80" cy="279.30" r="2.4" fill="#f5a142"/>
<circle cx="436.10" cy="294.70" r="2.4" fill="#f5a142"/>
<circle cx="471.40" cy="306.40" r="2.4" fill="#f5a142"/>
<circle cx="330.20" cy="246.30" r="2.6" fill="#151515"/>
<circle cx="365.50" cy="250.40" r="2.6" fill="#151515"/>
<circle cx="400.80" cy="268.30" r="2.6" fill="#151515"/>
<circle cx="436.10" cy="267.20" r="2.6" fill="#151515"/>
<circle cx="471.40" cy="273.40" r="2.6" fill="#151515"/>
<path d="M477.0,275.0 L481.6,275.0 L481.6,305 L477.0,305 M477.0,307.2 L481.6,307.2 L481.6,317.8 L477.0,317.8" fill="none" stroke="#777777" stroke-width="1.2"/>
<path d="M491,274.8 L498.2,274.8 L498.2,318.3 L491,318.3" fill="none" stroke="#777777" stroke-width="1.2"/>
<path d="M484.65,290.80 L489.75,290.80 M485.93,288.59 L488.47,293.01 M488.47,288.59 L485.93,293.01 " stroke="#231f20" stroke-width="1.1" fill="none"/>
<path d="M489.95,290.80 L495.05,290.80 M491.23,288.59 L493.77,293.01 M493.77,288.59 L491.23,293.01 " stroke="#231f20" stroke-width="1.1" fill="none"/>
<path d="M485.05,312.60 L490.15,312.60 M486.33,310.39 L488.88,314.81 M488.88,310.39 L486.33,314.81 " stroke="#231f20" stroke-width="1.1" fill="none"/>
<path d="M499.95,297.60 L505.05,297.60 M501.23,295.39 L503.77,299.81 M503.77,295.39 L501.23,299.81 " stroke="#231f20" stroke-width="1.1" fill="none"/>
<path d="M505.42,297.60 L510.52,297.60 M506.70,295.39 L509.25,299.81 M509.25,295.39 L506.70,299.81 " stroke="#231f20" stroke-width="1.1" fill="none"/>
<path d="M510.89,297.60 L515.99,297.60 M512.17,295.39 L514.72,299.81 M514.72,295.39 L512.17,299.81 " stroke="#231f20" stroke-width="1.1" fill="none"/>
<path d="M516.36,297.60 L521.46,297.60 M517.63,295.39 L520.18,299.81 M520.18,295.39 L517.63,299.81 " stroke="#231f20" stroke-width="1.1" fill="none"/>
<text x="528.60" y="195.90" font-size="15.8" stroke="#111" stroke-width="0.5" font-weight="bold" fill="#111" textLength="11.40" lengthAdjust="spacingAndGlyphs" >D</text>
<rect x="572.90" y="252.50" width="13.2" height="91.50" fill="#e6e6e6"/>
<rect x="593.00" y="276.50" width="13.2" height="67.50" fill="#e6e6e6"/>
<rect x="612.80" y="286.50" width="13.2" height="57.50" fill="#e6e6e6"/>
<rect x="645.60" y="249.50" width="13.2" height="94.50" fill="#e6e6e6"/>
<rect x="665.10" y="275.00" width="13.2" height="69.00" fill="#e6e6e6"/>
<rect x="684.80" y="277.50" width="13.2" height="66.50" fill="#e6e6e6"/>
<rect x="717.70" y="251.40" width="13.2" height="92.60" fill="#e6e6e6"/>
<rect x="737.70" y="273.60" width="13.2" height="70.40" fill="#e6e6e6"/>
<rect x="757.30" y="290.20" width="13.2" height="53.80" fill="#e6e6e6"/>
<path d="M566.7,203.2 L566.7,343.9 L778,343.9" fill="none" stroke="#1c1a1a" stroke-width="1.15"/>
<line x1="561.8" y1="344.00" x2="566.7" y2="344.00" stroke="#1c1a1a" stroke-width="1"/>
<text x="559.70" y="347.50" font-size="10.0" stroke="#231f20" stroke-width="0.3" text-anchor="end" textLength="10.20" lengthAdjust="spacingAndGlyphs" >20</text>
<line x1="561.8" y1="312.72" x2="566.7" y2="312.72" stroke="#1c1a1a" stroke-width="1"/>
<text x="559.70" y="316.22" font-size="10.0" stroke="#231f20" stroke-width="0.3" text-anchor="end" textLength="10.20" lengthAdjust="spacingAndGlyphs" >40</text>
<line x1="561.8" y1="281.45" x2="566.7" y2="281.45" stroke="#1c1a1a" stroke-width="1"/>
<text x="559.70" y="284.95" font-size="10.0" stroke="#231f20" stroke-width="0.3" text-anchor="end" textLength="10.20" lengthAdjust="spacingAndGlyphs" >60</text>
<line x1="561.8" y1="250.17" x2="566.7" y2="250.17" stroke="#1c1a1a" stroke-width="1"/>
<text x="559.70" y="253.67" font-size="10.0" stroke="#231f20" stroke-width="0.3" text-anchor="end" textLength="10.20" lengthAdjust="spacingAndGlyphs" >80</text>
<line x1="561.8" y1="218.90" x2="566.7" y2="218.90" stroke="#1c1a1a" stroke-width="1"/>
<text x="559.70" y="222.40" font-size="10.0" stroke="#231f20" stroke-width="0.3" text-anchor="end" textLength="15.80" lengthAdjust="spacingAndGlyphs" >100</text>
<line x1="579.50" y1="344" x2="579.50" y2="347.6" stroke="#1c1a1a" stroke-width="1"/>
<text x="579.30" y="357.70" font-size="8.2" stroke="#231f20" stroke-width="0.3" text-anchor="middle" >1</text>
<line x1="599.60" y1="344" x2="599.60" y2="347.6" stroke="#1c1a1a" stroke-width="1"/>
<text x="598.30" y="357.70" font-size="8.2" stroke="#231f20" stroke-width="0.3" text-anchor="middle" textLength="11.20" lengthAdjust="spacingAndGlyphs" >5-1</text>
<line x1="619.40" y1="344" x2="619.40" y2="347.6" stroke="#1c1a1a" stroke-width="1"/>
<text x="617.30" y="357.70" font-size="8.2" stroke="#231f20" stroke-width="0.3" text-anchor="middle" textLength="11.20" lengthAdjust="spacingAndGlyphs" >5-2</text>
<line x1="652.20" y1="344" x2="652.20" y2="347.6" stroke="#1c1a1a" stroke-width="1"/>
<text x="649.30" y="357.70" font-size="8.2" stroke="#231f20" stroke-width="0.3" text-anchor="middle" >1</text>
<line x1="671.70" y1="344" x2="671.70" y2="347.6" stroke="#1c1a1a" stroke-width="1"/>
<text x="668.20" y="357.70" font-size="8.2" stroke="#231f20" stroke-width="0.3" text-anchor="middle" textLength="11.20" lengthAdjust="spacingAndGlyphs" >5-1</text>
<line x1="691.40" y1="344" x2="691.40" y2="347.6" stroke="#1c1a1a" stroke-width="1"/>
<text x="687.50" y="357.70" font-size="8.2" stroke="#231f20" stroke-width="0.3" text-anchor="middle" textLength="11.20" lengthAdjust="spacingAndGlyphs" >5-2</text>
<line x1="724.30" y1="344" x2="724.30" y2="347.6" stroke="#1c1a1a" stroke-width="1"/>
<text x="719.40" y="357.70" font-size="8.2" stroke="#231f20" stroke-width="0.3" text-anchor="middle" >1</text>
<line x1="744.30" y1="344" x2="744.30" y2="347.6" stroke="#1c1a1a" stroke-width="1"/>
<text x="738.40" y="357.70" font-size="8.2" stroke="#231f20" stroke-width="0.3" text-anchor="middle" textLength="11.20" lengthAdjust="spacingAndGlyphs" >5-1</text>
<line x1="763.90" y1="344" x2="763.90" y2="347.6" stroke="#1c1a1a" stroke-width="1"/>
<text x="757.20" y="357.70" font-size="8.2" stroke="#231f20" stroke-width="0.3" text-anchor="middle" textLength="11.20" lengthAdjust="spacingAndGlyphs" >5-2</text>
<text x="671.40" y="376.20" font-size="10.9" stroke="#231f20" stroke-width="0.2" text-anchor="middle" textLength="47.60" lengthAdjust="spacingAndGlyphs" >Probe trails</text>
<text x="538.90" y="331.70" font-size="10.2" stroke="#231f20" stroke-width="0.12" textLength="115.00" lengthAdjust="spacingAndGlyphs" transform="rotate(-90 538.90 331.70)" >Distance to platform [cm]</text>
<circle cx="576" cy="235.2" r="2.35" fill="#a3a3a3"/>
<circle cx="579.8" cy="236.6" r="2.35" fill="#a3a3a3"/>
<circle cx="582.9" cy="235.6" r="2.35" fill="#a3a3a3"/>
<circle cx="576" cy="242.3" r="2.35" fill="#a3a3a3"/>
<circle cx="576.6" cy="247" r="2.35" fill="#a3a3a3"/>
<circle cx="582.3" cy="247" r="2.35" fill="#a3a3a3"/>
<circle cx="575.6" cy="250.9" r="2.35" fill="#a3a3a3"/>
<circle cx="578.5" cy="251.8" r="2.35" fill="#a3a3a3"/>
<circle cx="580.4" cy="250.5" r="2.35" fill="#a3a3a3"/>
<circle cx="582.3" cy="251.8" r="2.35" fill="#a3a3a3"/>
<circle cx="577.5" cy="254.7" r="2.35" fill="#a3a3a3"/>
<circle cx="579.8" cy="256.6" r="2.35" fill="#a3a3a3"/>
<circle cx="576.6" cy="267" r="2.35" fill="#a3a3a3"/>
<circle cx="582.9" cy="269.9" r="2.35" fill="#a3a3a3"/>
<circle cx="579.8" cy="296.6" r="2.35" fill="#a3a3a3"/>
<circle cx="596" cy="255.5" r="2.35" fill="#a3a3a3"/>
<circle cx="602.4" cy="257.2" r="2.35" fill="#a3a3a3"/>
<circle cx="596" cy="259.4" r="2.35" fill="#a3a3a3"/>
<circle cx="602.9" cy="260" r="2.35" fill="#a3a3a3"/>
<circle cx="599.4" cy="263.7" r="2.35" fill="#a3a3a3"/>
<circle cx="596.9" cy="266.3" r="2.35" fill="#a3a3a3"/>
<circle cx="598.9" cy="268.9" r="2.35" fill="#a3a3a3"/>
<circle cx="602" cy="268" r="2.35" fill="#a3a3a3"/>
<circle cx="601.2" cy="272" r="2.35" fill="#a3a3a3"/>
<circle cx="596" cy="278.3" r="2.35" fill="#a3a3a3"/>
<circle cx="602" cy="277.5" r="2.35" fill="#a3a3a3"/>
<circle cx="598.6" cy="281.8" r="2.35" fill="#a3a3a3"/>
<circle cx="602.9" cy="285.2" r="2.35" fill="#a3a3a3"/>
<circle cx="596.5" cy="287.8" r="2.35" fill="#a3a3a3"/>
<circle cx="600" cy="289.1" r="2.35" fill="#a3a3a3"/>
<circle cx="602.4" cy="305.3" r="2.35" fill="#a3a3a3"/>
<circle cx="596" cy="310.1" r="2.35" fill="#a3a3a3"/>
<circle cx="619.5" cy="262.4" r="2.35" fill="#a3a3a3"/>
<circle cx="619.5" cy="269.7" r="2.35" fill="#a3a3a3"/>
<circle cx="615.8" cy="274.9" r="2.35" fill="#a3a3a3"/>
<circle cx="617.5" cy="280" r="2.35" fill="#a3a3a3"/>
<circle cx="622.3" cy="279.2" r="2.35" fill="#a3a3a3"/>
<circle cx="620" cy="282.6" r="2.35" fill="#a3a3a3"/>
<circle cx="615.8" cy="285.2" r="2.35" fill="#a3a3a3"/>
<circle cx="621.8" cy="284.3" r="2.35" fill="#a3a3a3"/>
<circle cx="617.5" cy="288.6" r="2.35" fill="#a3a3a3"/>
<circle cx="620" cy="290.3" r="2.35" fill="#a3a3a3"/>
<circle cx="622.6" cy="292.1" r="2.35" fill="#a3a3a3"/>
<circle cx="615.8" cy="293.8" r="2.35" fill="#a3a3a3"/>
<circle cx="618.3" cy="295.5" r="2.35" fill="#a3a3a3"/>
<circle cx="620.9" cy="296" r="2.35" fill="#a3a3a3"/>
<circle cx="622.6" cy="300.6" r="2.35" fill="#a3a3a3"/>
<circle cx="616.6" cy="305.8" r="2.35" fill="#a3a3a3"/>
<circle cx="648.5" cy="234.5" r="2.3" fill="#111111"/>
<circle cx="655.8" cy="233" r="2.3" fill="#111111"/>
<circle cx="652.3" cy="238.1" r="2.3" fill="#111111"/>
<circle cx="648" cy="247.2" r="2.3" fill="#111111"/>
<circle cx="651.6" cy="245.1" r="2.3" fill="#111111"/>
<circle cx="655.8" cy="246.8" r="2.3" fill="#111111"/>
<circle cx="649.5" cy="249.9" r="2.3" fill="#111111"/>
<circle cx="653.1" cy="250.8" r="2.3" fill="#111111"/>
<circle cx="654.8" cy="248.7" r="2.3" fill="#111111"/>
<circle cx="652.3" cy="265.1" r="2.3" fill="#111111"/>
<circle cx="671.7" cy="255.6" r="2.3" fill="#111111"/>
<circle cx="668.5" cy="262.6" r="2.3" fill="#111111"/>
<circle cx="675.5" cy="260.9" r="2.3" fill="#111111"/>
<circle cx="672.1" cy="264.7" r="2.3" fill="#111111"/>
<circle cx="674.9" cy="270.4" r="2.3" fill="#111111"/>
<circle cx="668.5" cy="273.6" r="2.3" fill="#111111"/>
<circle cx="673.8" cy="274.7" r="2.3" fill="#111111"/>
<circle cx="669.6" cy="276.8" r="2.3" fill="#111111"/>
<circle cx="675.9" cy="275.7" r="2.3" fill="#111111"/>
<circle cx="671.3" cy="280.4" r="2.3" fill="#111111"/>
<circle cx="671.7" cy="287.3" r="2.3" fill="#111111"/>
<circle cx="691.8" cy="250.8" r="2.3" fill="#111111"/>
<circle cx="691.8" cy="263" r="2.3" fill="#111111"/>
<circle cx="688.2" cy="266.2" r="2.3" fill="#111111"/>
<circle cx="689" cy="275.3" r="2.3" fill="#111111"/>
<circle cx="696.6" cy="274" r="2.3" fill="#111111"/>
<circle cx="698.1" cy="271.9" r="2.3" fill="#111111"/>
<circle cx="690.7" cy="279.9" r="2.3" fill="#111111"/>
<circle cx="693.9" cy="280.4" r="2.3" fill="#111111"/>
<circle cx="688.2" cy="285.2" r="2.3" fill="#111111"/>
<circle cx="695.4" cy="283.7" r="2.3" fill="#111111"/>
<circle cx="691.8" cy="288" r="2.3" fill="#111111"/>
<circle cx="691.8" cy="294.7" r="2.3" fill="#111111"/>
<circle cx="724.5" cy="236.7" r="2.35" fill="#f5a343"/>
<circle cx="721.7" cy="243" r="2.35" fill="#f5a343"/>
<circle cx="730.9" cy="244.4" r="2.35" fill="#f5a343"/>
<circle cx="720.9" cy="249.4" r="2.35" fill="#f5a343"/>
<circle cx="724.5" cy="250.5" r="2.35" fill="#f5a343"/>
<circle cx="727.3" cy="249.4" r="2.35" fill="#f5a343"/>
<circle cx="729.2" cy="247.2" r="2.35" fill="#f5a343"/>
<circle cx="721.7" cy="260.5" r="2.35" fill="#f5a343"/>
<circle cx="727.3" cy="262.5" r="2.35" fill="#f5a343"/>
<circle cx="730.9" cy="260.5" r="2.35" fill="#f5a343"/>
<circle cx="721.7" cy="268.6" r="2.35" fill="#f5a343"/>
<circle cx="741.1" cy="242.2" r="2.35" fill="#f5a343"/>
<circle cx="747.5" cy="247.8" r="2.35" fill="#f5a343"/>
<circle cx="744.8" cy="257.8" r="2.35" fill="#f5a343"/>
<circle cx="741.1" cy="266.1" r="2.35" fill="#f5a343"/>
<circle cx="750.3" cy="268" r="2.35" fill="#f5a343"/>
<circle cx="742" cy="273.6" r="2.35" fill="#f5a343"/>
<circle cx="746.7" cy="272.2" r="2.35" fill="#f5a343"/>
<circle cx="743.9" cy="286.1" r="2.35" fill="#f5a343"/>
<circle cx="741.1" cy="290.2" r="2.35" fill="#f5a343"/>
<circle cx="747.5" cy="291.6" r="2.35" fill="#f5a343"/>
<circle cx="744.8" cy="293" r="2.35" fill="#f5a343"/>
<circle cx="761.4" cy="279.1" r="2.35" fill="#f5a343"/>
<circle cx="767.5" cy="281.9" r="2.35" fill="#f5a343"/>
<circle cx="763.3" cy="284.7" r="2.35" fill="#f5a343"/>
<circle cx="767" cy="287.4" r="2.35" fill="#f5a343"/>
<circle cx="760.6" cy="290.2" r="2.35" fill="#f5a343"/>
<circle cx="764.7" cy="291.6" r="2.35" fill="#f5a343"/>
<circle cx="761.4" cy="299.9" r="2.35" fill="#f5a343"/>
<circle cx="767" cy="301.3" r="2.35" fill="#f5a343"/>
<circle cx="764.2" cy="324.9" r="2.35" fill="#f5a343"/>
<line x1="577" y1="217.1" x2="623.8" y2="217.1" stroke="#1e1e1e" stroke-width="1.0"/>
<line x1="646.7" y1="217.1" x2="693.8" y2="217.1" stroke="#1e1e1e" stroke-width="1.0"/>
<line x1="720.7" y1="217.1" x2="767.8" y2="217.1" stroke="#1e1e1e" stroke-width="1.0"/>
<path d="M597,199.7 L597,192.2 L743.4,192.2 L743.4,199.7" fill="none" stroke="#777777" stroke-width="1.1"/>
<path d="M597,211.4 L597,203.6 L668.6,203.6 L668.6,211.5 M671.4,211.5 L671.4,203.6 L743.4,203.6 L743.4,211.4" fill="none" stroke="#777777" stroke-width="1.1"/>
<text x="669.50" y="190.90" font-size="8.0" stroke="#231f20" stroke-width="0.12" text-anchor="middle" textLength="11.80" lengthAdjust="spacingAndGlyphs" >n.s.</text>
<path d="M627.45,199.30 L632.55,199.30 M628.73,197.09 L631.27,201.51 M631.27,197.09 L628.73,201.51 " stroke="#231f20" stroke-width="1.0" fill="none"/>
<path d="M701.65,199.30 L706.75,199.30 M702.93,197.09 L705.48,201.51 M705.48,197.09 L702.93,201.51 " stroke="#231f20" stroke-width="1.0" fill="none"/>
<path d="M706.85,199.30 L711.95,199.30 M708.12,197.09 L710.67,201.51 M710.67,197.09 L708.12,201.51 " stroke="#231f20" stroke-width="1.0" fill="none"/>
</svg></body></html>
